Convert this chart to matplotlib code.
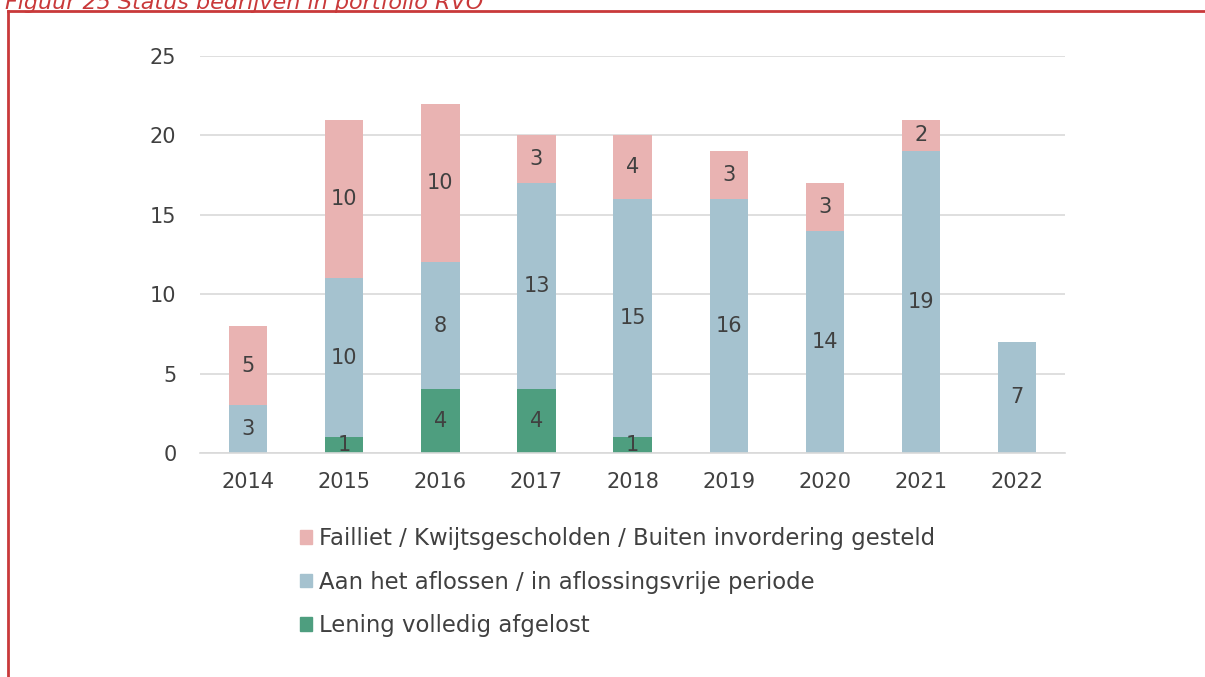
import numpy as np
import matplotlib.pyplot as plt
from matplotlib.patches import Patch
from matplotlib.lines import Line2D

years = ["2014", "2015", "2016", "2017", "2018", "2019", "2020", "2021", "2022"]
afgelost = [0, 1, 4, 4, 1, 0, 0, 0, 0]
aflossen = [3, 10, 8, 13, 15, 16, 14, 19, 7]
failliet = [5, 10, 10, 3, 4, 3, 3, 2, 0]

labels = ["Failliet / Kwijtsgescholden / Buiten invordering gesteld",
          "Aan het aflossen / in aflossingsvrije periode",
          "Lening volledig afgelost"]
c_fail = "#E9B3B2"
c_afl = "#A5C2CF"
c_groen = "#4E9E7F"
txt = "#404040"
red = "#C9393A"

plt.rcParams["font.family"] = "DejaVu Sans"

fig = plt.figure(figsize=(12.05, 6.77), dpi=100)
ax = fig.add_axes([0.166, 0.3309, 0.718, 0.5864])

x = np.arange(len(years))
w = 0.4
afgelost = np.array(afgelost)
aflossen = np.array(aflossen)
failliet = np.array(failliet)

stacks = [(afgelost, 0, c_groen), (aflossen, afgelost, c_afl),
          (failliet, afgelost + aflossen, c_fail)]
for vals, bottom, col in stacks:
    bars = ax.bar(x, vals, w, bottom=bottom, color=col, zorder=2)
    for b, v in zip(bars, vals):
        if v > 0:
            ax.text(b.get_x() + b.get_width() / 2, b.get_y() + v / 2, str(v),
                    ha="center", va="center", fontsize=15, color=txt, zorder=3)

ax.set_xlim(-0.5, len(years) - 0.5)
ax.set_ylim(0, 25)
ax.set_yticks(range(0, 26, 5))
ax.set_xticks(x)
ax.set_xticklabels(years)
ax.grid(axis="y", color="#D9D9D9", linewidth=1.2, zorder=0)
ax.set_axisbelow(True)
for s in ["top", "right", "left"]:
    ax.spines[s].set_visible(False)
ax.spines["bottom"].set_color("#D9D9D9")
ax.spines["bottom"].set_linewidth(1.2)
ax.tick_params(axis="both", length=0, labelsize=15, colors=txt)
ax.tick_params(axis="y", pad=17)
ax.tick_params(axis="x", pad=14)

handles = [Patch(color=c_fail), Patch(color=c_afl), Patch(color=c_groen)]
fig.legend(handles, labels, loc="upper left", bbox_to_anchor=(0.241, 0.235),
           frameon=False, fontsize=16.4, labelcolor=txt, handlelength=0.55,
           handleheight=0.55, handletextpad=0.3, labelspacing=0.9,
           borderaxespad=0)

# figure caption (cut off at the top, as in the source) and red frame
fig.text(0.004, 1 - 9 / 677, "Figuur 25 Status bedrijven in portfolio RVO",
         color=red, fontsize=16, style="italic", va="baseline", ha="left")
fig.add_artist(Line2D([8 / 1205, 1], [1 - 11 / 677, 1 - 11 / 677],
                      transform=fig.transFigure, color=red, linewidth=2))
fig.add_artist(Line2D([8 / 1205, 8 / 1205], [1 - 11 / 677, 0],
                      transform=fig.transFigure, color=red, linewidth=2))

fig.savefig("out.png", dpi=100)
